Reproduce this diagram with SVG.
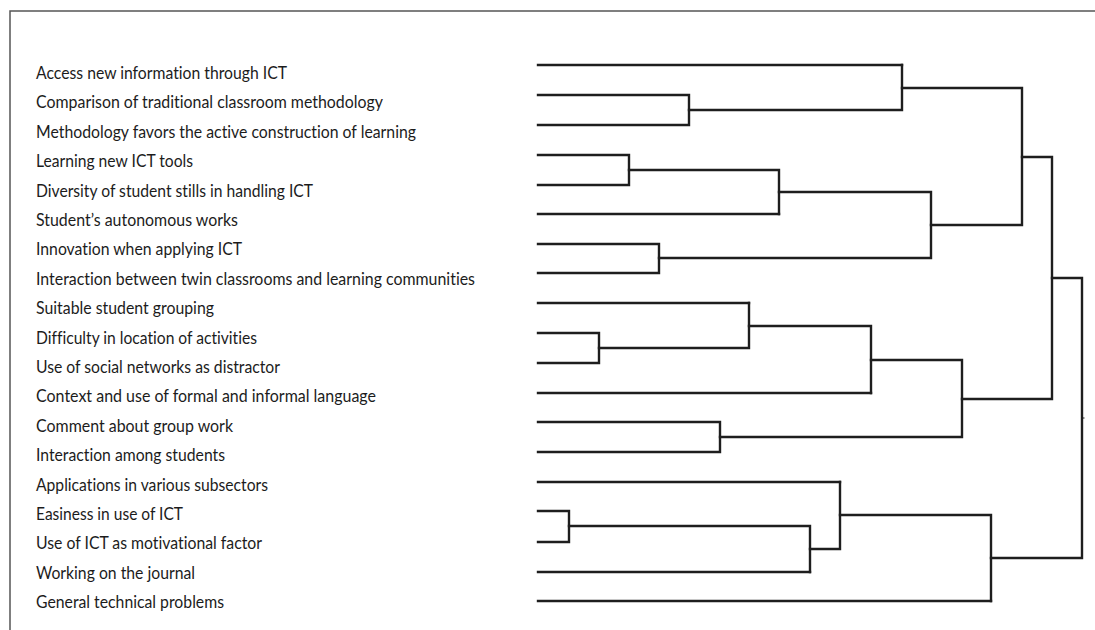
<svg xmlns="http://www.w3.org/2000/svg" width="1095" height="630" viewBox="0 0 1095 630">
<style>
  .lbl { font-family: Lato, "Liberation Sans", sans-serif; font-size: 16.5px; fill: #1c1c1c; font-variant-ligatures: none; }
  .ln { stroke: #1e1e1e; stroke-width: 2.4; fill: none; stroke-linecap: square; }
  .frame { stroke: #555; stroke-width: 1.5; fill: none; }
</style>
<rect width="1095" height="630" fill="#ffffff"/>
<path class="frame" d="M10 630 V11 H1095"/>
<g id="labels">
  <g id="n1"><text class="lbl" x="36" y="79" textLength="251" lengthAdjust="spacingAndGlyphs">Access new information through ICT</text></g>
  <g id="n2"><text class="lbl" x="36" y="108.4" textLength="347" lengthAdjust="spacingAndGlyphs">Comparison of traditional classroom methodology</text></g>
  <g id="n3"><text class="lbl" x="36" y="137.8" textLength="380" lengthAdjust="spacingAndGlyphs">Methodology favors the active construction of learning</text></g>
  <g id="n4"><text class="lbl" x="36" y="167.2" textLength="157" lengthAdjust="spacingAndGlyphs">Learning new ICT tools</text></g>
  <g id="n5"><text class="lbl" x="36" y="196.6" textLength="277" lengthAdjust="spacingAndGlyphs">Diversity of student stills in handling ICT</text></g>
  <g id="n6"><text class="lbl" x="36" y="226" textLength="202" lengthAdjust="spacingAndGlyphs">Student’s autonomous works</text></g>
  <g id="n7"><text class="lbl" x="36" y="255.3" textLength="206" lengthAdjust="spacingAndGlyphs">Innovation when applying ICT</text></g>
  <g id="n8"><text class="lbl" x="36" y="284.7" textLength="439" lengthAdjust="spacingAndGlyphs">Interaction between twin classrooms and learning communities</text></g>
  <g id="n9"><text class="lbl" x="36" y="314.1" textLength="178" lengthAdjust="spacingAndGlyphs">Suitable student grouping</text></g>
  <g id="n10"><text class="lbl" x="36" y="343.5" textLength="221" lengthAdjust="spacingAndGlyphs">Difficulty in location of activities</text></g>
  <g id="n11"><text class="lbl" x="36" y="372.9" textLength="244" lengthAdjust="spacingAndGlyphs">Use of social networks as distractor</text></g>
  <g id="n12"><text class="lbl" x="36" y="402.3" textLength="340" lengthAdjust="spacingAndGlyphs">Context and use of formal and informal language</text></g>
  <g id="n13"><text class="lbl" x="36" y="431.7" textLength="197" lengthAdjust="spacingAndGlyphs">Comment about group work</text></g>
  <g id="n14"><text class="lbl" x="36" y="461.1" textLength="189" lengthAdjust="spacingAndGlyphs">Interaction among students</text></g>
  <g id="n15"><text class="lbl" x="36" y="490.5" textLength="232" lengthAdjust="spacingAndGlyphs">Applications in various subsectors</text></g>
  <g id="n16"><text class="lbl" x="36" y="519.9" textLength="147" lengthAdjust="spacingAndGlyphs">Easiness in use of ICT</text></g>
  <g id="n17"><text class="lbl" x="36" y="549.3" textLength="226" lengthAdjust="spacingAndGlyphs">Use of ICT as motivational factor</text></g>
  <g id="n18"><text class="lbl" x="36" y="578.6" textLength="159" lengthAdjust="spacingAndGlyphs">Working on the journal</text></g>
  <g id="n19"><text class="lbl" x="36" y="608" textLength="188" lengthAdjust="spacingAndGlyphs">General technical problems</text></g>
</g>
<g id="connectors">
  <path class="ln" d="M538 65 H902"/>
  <path class="ln" d="M538 95 H689 V125 H538"/>
  <path class="ln" d="M538 155 H629 V185 H538"/>
  <path class="ln" d="M538 214 H779"/>
  <path class="ln" d="M538 244 H659 V273 H538"/>
  <path class="ln" d="M538 303 H749"/>
  <path class="ln" d="M538 333 H599 V363 H538"/>
  <path class="ln" d="M538 393 H871"/>
  <path class="ln" d="M538 422 H720 V452 H538"/>
  <path class="ln" d="M538 482 H840"/>
  <path class="ln" d="M538 511 H569 V542 H538"/>
  <path class="ln" d="M538 572 H810"/>
  <path class="ln" d="M538 601 H991"/>
  <path class="ln" d="M689 110 H902 V65"/>
  <path class="ln" d="M629 170 H779 V214"/>
  <path class="ln" d="M779 192 H931 V258 H659"/>
  <path class="ln" d="M902 88 H1022 V225 H931"/>
  <path class="ln" d="M599 348 H749 V303"/>
  <path class="ln" d="M749 326 H871 V393"/>
  <path class="ln" d="M871 360 H962 V437 H720"/>
  <path class="ln" d="M1022 157 H1052 V399 H962"/>
  <path class="ln" d="M569 526 H810 V572"/>
  <path class="ln" d="M810 549 H840 V482"/>
  <path class="ln" d="M840 515 H991 V601"/>
  <path class="ln" d="M1052 278 H1082 V558 H991"/>
  <path class="ln" d="M1082 418 H1084" style="stroke-width:1"/>
</g>
</svg>
